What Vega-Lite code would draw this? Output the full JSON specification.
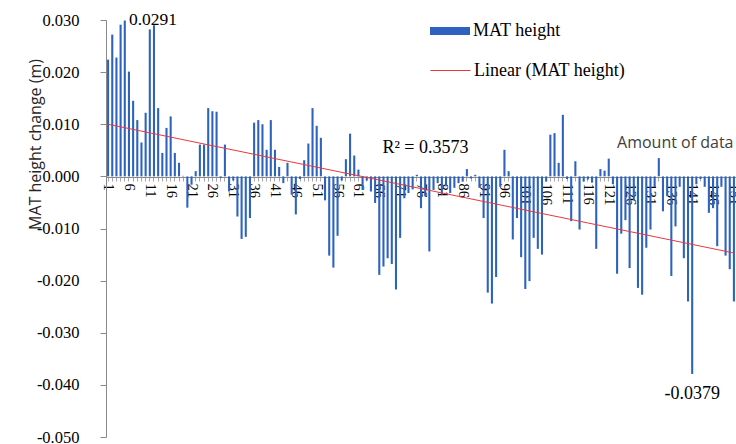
{
  "$schema": "https://vega.github.io/schema/vega-lite/v6.json",
  "width": 630,
  "height": 417,
  "autosize": "none",
  "padding": {"left": 106, "top": 20, "right": 0, "bottom": 7},
  "background": "white",
  "config": {"view": {"stroke": null}},
  "datasets": {
    "bars": [
      {"n":1,"h":0.0224},{"n":2,"h":0.0272},{"n":3,"h":0.0228},{"n":4,"h":0.0291},{"n":5,"h":0.0299},
      {"n":6,"h":0.0201},{"n":7,"h":0.0145},{"n":8,"h":0.0108},{"n":9,"h":0.0065},{"n":10,"h":0.0122},
      {"n":11,"h":0.0282},{"n":12,"h":0.0290},{"n":13,"h":0.0131},{"n":14,"h":0.0045},{"n":15,"h":0.0093},
      {"n":16,"h":0.0115},{"n":17,"h":0.0045},{"n":18,"h":0.0026},{"n":19,"h":0.0001},{"n":20,"h":-0.0060},
      {"n":21,"h":-0.0016},{"n":22,"h":0.0010},{"n":23,"h":0.0061},{"n":24,"h":0.0061},{"n":25,"h":0.0131},
      {"n":26,"h":0.0125},{"n":27,"h":0.0124},{"n":28,"h":-0.0003},{"n":29,"h":0.0061},{"n":30,"h":-0.0029},
      {"n":31,"h":-0.0008},{"n":32,"h":-0.0077},{"n":33,"h":-0.0120},{"n":34,"h":-0.0116},{"n":35,"h":-0.0080},
      {"n":36,"h":0.0103},{"n":37,"h":0.0108},{"n":38,"h":0.0100},{"n":39,"h":0.0051},{"n":40,"h":0.0108},
      {"n":41,"h":0.0051},{"n":42,"h":0.0018},{"n":43,"h":-0.0013},{"n":44,"h":0.0026},{"n":45,"h":-0.0035},
      {"n":46,"h":-0.0073},{"n":47,"h":-0.0005},{"n":48,"h":0.0031},{"n":49,"h":0.0063},{"n":50,"h":0.0131},
      {"n":51,"h":0.0097},{"n":52,"h":0.0074},{"n":53,"h":-0.0046},{"n":54,"h":-0.0152},{"n":55,"h":-0.0175},
      {"n":56,"h":-0.0114},{"n":57,"h":-0.0008},{"n":58,"h":0.0033},{"n":59,"h":0.0082},{"n":60,"h":0.0040},
      {"n":61,"h":0.0013},{"n":62,"h":-0.0026},{"n":63,"h":-0.0008},{"n":64,"h":-0.0029},{"n":65,"h":-0.0051},
      {"n":66,"h":-0.0189},{"n":67,"h":-0.0173},{"n":68,"h":-0.0157},{"n":69,"h":-0.0168},{"n":70,"h":-0.0217},
      {"n":71,"h":-0.0118},{"n":72,"h":-0.0042},{"n":73,"h":-0.0032},{"n":74,"h":-0.0025},{"n":75,"h":0.0003},
      {"n":76,"h":-0.0061},{"n":77,"h":-0.0038},{"n":78,"h":-0.0144},{"n":79,"h":-0.0026},{"n":80,"h":-0.0013},
      {"n":81,"h":-0.0035},{"n":82,"h":-0.0019},{"n":83,"h":-0.0032},{"n":84,"h":-0.0022},{"n":85,"h":-0.0013},
      {"n":86,"h":-0.0010},{"n":87,"h":0.0014},{"n":88,"h":-0.0004},{"n":89,"h":0.0003},{"n":90,"h":-0.0022},
      {"n":91,"h":-0.0080},{"n":92,"h":-0.0223},{"n":93,"h":-0.0244},{"n":94,"h":-0.0193},{"n":95,"h":-0.0020},
      {"n":96,"h":0.0051},{"n":97,"h":0.0010},{"n":98,"h":-0.0121},{"n":99,"h":-0.0080},{"n":100,"h":-0.0155},
      {"n":101,"h":-0.0216},{"n":102,"h":-0.0201},{"n":103,"h":-0.0118},{"n":104,"h":-0.0139},{"n":105,"h":-0.0150},
      {"n":106,"h":-0.0010},{"n":107,"h":0.0080},{"n":108,"h":0.0083},{"n":109,"h":0.0026},{"n":110,"h":0.0118},
      {"n":111,"h":-0.0005},{"n":112,"h":-0.0086},{"n":113,"h":0.0029},{"n":114,"h":-0.0102},{"n":115,"h":-0.0010},
      {"n":116,"h":-0.0006},{"n":117,"h":-0.0012},{"n":118,"h":-0.0139},{"n":119,"h":0.0014},{"n":120,"h":0.0011},
      {"n":121,"h":0.0034},{"n":122,"h":-0.0015},{"n":123,"h":-0.0187},{"n":124,"h":-0.0110},{"n":125,"h":-0.0084},
      {"n":126,"h":-0.0176},{"n":127,"h":-0.0045},{"n":128,"h":-0.0214},{"n":129,"h":-0.0227},{"n":130,"h":-0.0137},
      {"n":131,"h":-0.0102},{"n":132,"h":-0.0020},{"n":133,"h":0.0035},{"n":134,"h":-0.0067},{"n":135,"h":-0.0038},
      {"n":136,"h":-0.0191},{"n":137,"h":-0.0096},{"n":138,"h":-0.0020},{"n":139,"h":-0.0157},{"n":140,"h":-0.0240},
      {"n":141,"h":-0.0379},{"n":142,"h":-0.0015},{"n":143,"h":-0.0005},{"n":144,"h":-0.0020},{"n":145,"h":-0.0070},
      {"n":146,"h":-0.0061},{"n":147,"h":-0.0134},{"n":148,"h":-0.0020},{"n":149,"h":-0.0152},{"n":150,"h":-0.0178},
      {"n":151,"h":-0.0240}
    ],
    "trend": [
      {"n":1,"v":0.0100,"t":"Linear (MAT height)"},
      {"n":151,"v":-0.0147,"t":"Linear (MAT height)"}
    ],
    "notes": [
      {"n":6,"v":0.0291,"label":"0.0291","kind":"max"},
      {"n":141,"v":-0.0379,"label":"-0.0379","kind":"min"},
      {"n":67,"v":0.0055,"label":"R² = 0.3573","kind":"r2"}
    ]
  },
  "layer": [
    {
      "data": {"name": "bars"},
      "transform": [{"calculate": "'MAT height'", "as": "series"}],
      "mark": {"type": "bar"},
      "encoding": {
        "x": {
          "field": "n", "type": "ordinal",
          "scale": {"paddingInner": 0.5, "paddingOuter": 0.25},
          "axis": {
            "title": "Amount of data",
            "titleFont": "Open Sans", "titleFontSize": 16, "titleFontWeight": "normal", "titleColor": "#404040",
            "titleX": 627, "titleY": -30, "titleAlign": "right", "titleBaseline": "alphabetic", "titleAnchor": null,
            "offset": -260,
            "labelAngle": 90,
            "labelFont": "Liberation Serif", "labelFontSize": 14.5, "labelColor": "#000000",
            "labelPadding": 2,
            "labelOverlap": false, "labelFlush": false, "labelBound": false,
            "labelExpr": "(datum.value - 1) % 5 === 0 ? datum.label : ''",
            "tickSize": 4, "tickColor": "#a6a6a6",
            "domainColor": "#898989", "grid": false
          }
        },
        "y": {
          "field": "h", "type": "quantitative",
          "scale": {"domain": [-0.05, 0.03], "nice": false},
          "axis": {
            "title": "MAT height change (m)",
            "titleFont": "Open Sans", "titleFontSize": 16, "titleFontWeight": "normal", "titleColor": "#262626",
            "titleX": -71, "titleY": 124, "titleAngle": -90, "titleAlign": "center", "titleBaseline": "middle",
            "values": [-0.05, -0.04, -0.03, -0.02, -0.01, 0, 0.01, 0.02, 0.03],
            "format": ".3f",
            "labelExpr": "replace(datum.label, '\u2212', '-')",
            "labelFont": "Liberation Serif", "labelFontSize": 16.5, "labelColor": "#000000",
            "labelPadding": 21, "tickSize": 6, "tickColor": "#898989",
            "domainColor": "#898989", "grid": false
          }
        },
        "color": {
          "field": "series", "type": "nominal",
          "scale": {"domain": ["MAT height"], "range": ["#2d63bf"]},
          "legend": {
            "title": null, "orient": "none", "legendX": 324, "legendY": -9, "padding": 0,
            "symbolType": "M-1,-0.2H1V0.2H-1Z", "symbolSize": 1600, "symbolStrokeWidth": 0,
            "labelFont": "Liberation Serif", "labelFontSize": 18, "labelColor": "#000000", "labelOffset": 3
          }
        }
      }
    },
    {
      "data": {"name": "trend"},
      "mark": {"type": "line", "strokeWidth": 1},
      "encoding": {
        "x": {"field": "n", "type": "ordinal"},
        "y": {"field": "v", "type": "quantitative"},
        "stroke": {
          "field": "t", "type": "nominal",
          "scale": {"domain": ["Linear (MAT height)"], "range": ["#e8383d"]},
          "legend": {
            "title": null, "orient": "none", "legendX": 324, "legendY": 30, "padding": 0,
            "symbolType": "stroke", "symbolSize": 1600, "symbolStrokeWidth": 1,
            "labelFont": "Liberation Serif", "labelFontSize": 18, "labelColor": "#000000", "labelOffset": 3
          }
        }
      }
    },
    {
      "data": {"name": "notes"},
      "transform": [{"filter": "datum.kind === 'max'"}],
      "mark": {"type": "text", "font": "Liberation Serif", "fontSize": 17.5, "color": "#000000", "align": "left", "baseline": "middle", "dx": 0, "dy": -5},
      "encoding": {
        "x": {"field": "n", "type": "ordinal"},
        "y": {"field": "v", "type": "quantitative"},
        "text": {"field": "label"}
      }
    },
    {
      "data": {"name": "notes"},
      "transform": [{"filter": "datum.kind === 'min'"}],
      "mark": {"type": "text", "font": "Liberation Serif", "fontSize": 18, "color": "#000000", "align": "center", "baseline": "middle", "dx": 0, "dy": 20},
      "encoding": {
        "x": {"field": "n", "type": "ordinal"},
        "y": {"field": "v", "type": "quantitative"},
        "text": {"field": "label"}
      }
    },
    {
      "data": {"name": "notes"},
      "transform": [{"filter": "datum.kind === 'r2'"}],
      "mark": {"type": "text", "font": "Liberation Serif", "fontSize": 18, "color": "#000000", "align": "left", "baseline": "middle", "dx": -1},
      "encoding": {
        "x": {"field": "n", "type": "ordinal"},
        "y": {"field": "v", "type": "quantitative"},
        "text": {"field": "label"}
      }
    }
  ]
}
